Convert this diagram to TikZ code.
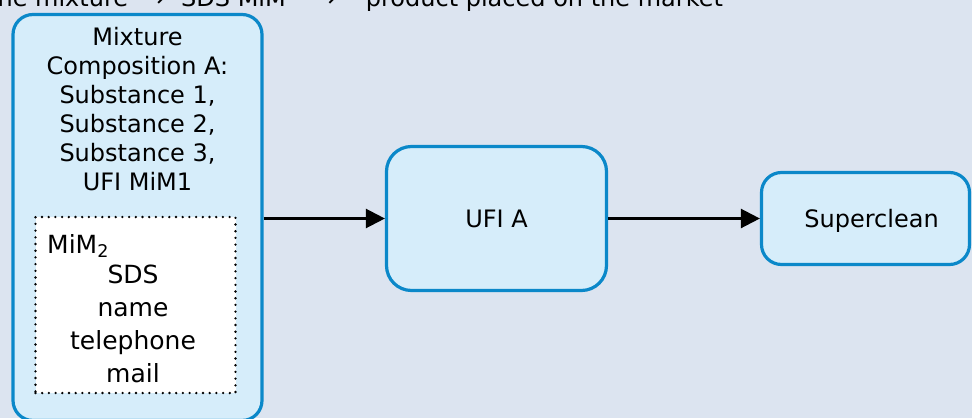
\documentclass[tikz,border=0pt]{standalone}
\usepackage{fontspec}
\setmainfont{DejaVu Sans}
\usetikzlibrary{arrows.meta}
\definecolor{bg}{HTML}{DCE4F0}
\definecolor{boxfill}{HTML}{D6EDFA}
\definecolor{boxline}{HTML}{0B88C9}
\begin{document}
\begin{tikzpicture}[x=1pt,y=-1pt,
  box/.style={draw=boxline, fill=boxfill, line width=3.2pt, rounded corners=#1, inner sep=0pt,
    font=\fontsize{24}{29}\selectfont, text height=17.5pt, text depth=0pt},
  txt/.style={inner sep=0pt, font=\fontsize{24}{29}\selectfont},
  arr/.style={line width=2.4pt, -{Triangle[length=19pt,width=19pt]}}]
\useasboundingbox (0,0) rectangle (972,418);
\clip (0,0) rectangle (972,418);
\fill[bg] (0,0) rectangle (972,418);
% caption line (cut at the top)
\node[txt, anchor=base west] (caption) at (-12,6)
  {the mixture\makebox[53pt]{→}SDS MiM\makebox[80pt]{→}product placed on the market};
% mixture box
\node[box=20pt, minimum width=249pt, minimum height=406pt] (mix) at (137.5,217.5) {};
\node[txt, anchor=north, align=center] (comp) at (137.5,27)
  {Mixture\\Composition A:\\Substance 1,\\Substance 2,\\Substance 3,\\UFI MiM1};
\node[draw=black, fill=white, line width=2.6pt, dash pattern=on 0pt off 6.7pt, line cap=round,
  minimum width=200pt, minimum height=176pt, inner sep=0pt] (mim) at (135.5,305) {};
\node[txt, anchor=base west, font=\fontsize{25}{33}\selectfont] (mimlabel) at (47,253) {MiM\textsubscript{2}};
\node[txt, anchor=north, align=center, font=\fontsize{25}{33}\selectfont] (mimtext) at (133,264.5)
  {SDS\\name\\telephone\\mail};
% UFI and product
\node[box=25pt, minimum width=220pt, minimum height=144pt] (ufi) at (496.5,218.5) {UFI A};
\node[box=20pt, minimum width=208pt, minimum height=92pt] (sc) at (865.5,218.5) {\hspace*{12pt}Superclean};
% connectors
\draw[arr] (mix.east |- ufi.west) -- (ufi.west);
\draw[arr] (ufi.east) -- (sc.west);
\end{tikzpicture}
\end{document}
